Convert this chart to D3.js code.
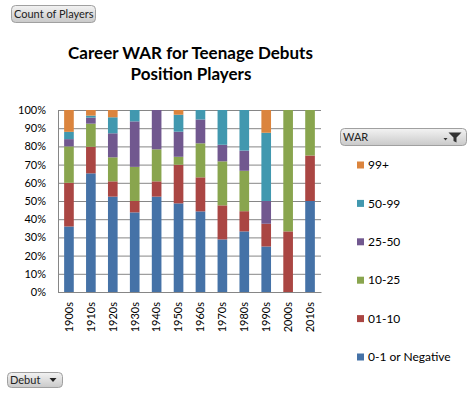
<!DOCTYPE html>
<html>
<head>
<meta charset="utf-8">
<script src="https://cdn.jsdelivr.net/npm/d3@7"></script>
<style>
  body { margin: 0; background: #fff; }
  svg { font-family: Lato, "Open Sans", sans-serif; }
</style>
</head>
<body>
<div id="chart"></div>
<script>
var decades = ["1900s","1910s","1920s","1930s","1940s","1950s","1960s","1970s","1980s","1990s","2000s","2010s"];
var warBands = ["0-1 or Negative","01-10","10-25","25-50","50-99","99+"];
var bandColors = ["#4572A7","#AA4643","#89A54E","#71588F","#4198AF","#DB843D"];

// share of players (%) in each WAR band, per decade
var negVals  = [36, 65.2, 52.4, 43.75, 52.4, 48.7, 44.3, 28.9, 33.3, 25, 0, 50];
var war1Vals = [24, 14.6, 8.4, 6.25, 8.4, 21.2, 18.7, 18.7, 11.1, 12.5, 33.3, 25];
var war10Vals = [20, 12.7, 13.2, 18.75, 17.6, 4.4, 18.7, 24.2, 22.2, 0, 66.7, 25];
var war25Vals = [4, 3.3, 13.2, 25, 21.6, 13.8, 13.1, 9.1, 11.1, 12.5, 0, 0];
var war50Vals = [4, 1.1, 8.8, 6.25, 0, 9.3, 5.2, 19.1, 22.3, 37.5, 0, 0];
var war99Vals = [12, 3.1, 4, 0, 0, 2.6, 0, 0, 0, 12.5, 0, 0];
var yTicks = [0,10,20,30,40,50,60,70,80,90,100];

var seriesVals = [negVals, war1Vals, war10Vals, war25Vals, war50Vals, war99Vals];
var rows = decades.map(function(d, i) {
  var r = {decade: d};
  warBands.forEach(function(b, j) { r[b] = seriesVals[j][i]; });
  return r;
});

var width = 474, height = 394;
var margin = {top: 110, left: 58, right: 153, bottom: 102};
var w = width - margin.left - margin.right,
    h = height - margin.top - margin.bottom;

var svg = d3.select("#chart").append("svg")
  .attr("width", width).attr("height", height);

var defs = svg.append("defs");
var grad = defs.append("linearGradient").attr("id", "btn").attr("x1", 0).attr("x2", 0).attr("y1", 0).attr("y2", 1);
grad.append("stop").attr("offset", "0%").attr("stop-color", "#f3f3f3");
grad.append("stop").attr("offset", "100%").attr("stop-color", "#c9c9c9");

var x = d3.scaleBand().domain(decades).range([0, w]).paddingInner(0.56).paddingOuter(0.28);
var y = d3.scaleLinear().domain([0, 100]).range([h, 0]);

var stack = d3.stack().keys(warBands);
var layers = stack(rows);

var g = svg.append("g").attr("transform", "translate(" + margin.left + "," + margin.top + ")");

// gridlines
g.append("g")
  .attr("class", "grid")
  .call(d3.axisLeft(y).tickValues(yTicks).tickSize(-w).tickFormat(""))
  .call(function(s) {
    s.select(".domain").remove();
    s.selectAll("line").attr("stroke", "#868686").attr("stroke-width", 1);
  });

// bars
g.selectAll(".layer")
  .data(layers)
  .enter().append("g")
  .attr("fill", function(d, i) { return bandColors[i]; })
  .selectAll("rect")
  .data(function(d) { return d; })
  .enter().append("rect")
  .attr("x", function(d) { return x(d.data.decade); })
  .attr("width", x.bandwidth())
  .attr("y", function(d) { return y(d[1]); })
  .attr("height", function(d) { return y(d[0]) - y(d[1]); });

// y axis
g.append("g")
  .call(d3.axisLeft(y).tickValues(yTicks).tickSize(0).tickPadding(12).tickFormat(function(d) { return d + "%"; }))
  .call(function(s) {
    s.select(".domain").attr("stroke", "#868686");
    s.selectAll("text").attr("font-size", 11).attr("fill", "#000")
      .style("font-family", "Lato, sans-serif");
  });

// x axis
g.append("g")
  .attr("transform", "translate(0," + h + ")")
  .call(d3.axisBottom(x).tickSize(0).tickPadding(0))
  .call(function(s) {
    s.select(".domain").attr("stroke", "#868686");
    s.selectAll("text")
      .attr("font-size", 11).attr("fill", "#000")
      .attr("transform", "rotate(-90)")
      .attr("text-anchor", "end")
      .attr("dy", "0.35em")
      .attr("x", -10).attr("y", 0)
      .style("font-family", "Lato, sans-serif");
  });

// title
svg.append("text").attr("x", 190.5).attr("y", 59).attr("text-anchor", "middle")
  .attr("font-size", 17).attr("font-weight", "bold").text("Career WAR for Teenage Debuts");
svg.append("text").attr("x", 191).attr("y", 80).attr("text-anchor", "middle")
  .attr("font-size", 17).attr("font-weight", "bold").text("Position Players");

// field buttons
function button(x0, y0, bw, bh, label) {
  var b = svg.append("g").attr("transform", "translate(" + x0 + "," + y0 + ")");
  b.append("rect").attr("width", bw).attr("height", bh).attr("rx", 4)
    .attr("fill", "url(#btn)").attr("stroke", "#a0a0a0");
  b.append("text").attr("x", 2.5).attr("y", bh / 2).attr("dy", "0.35em")
    .attr("font-size", 11).attr("fill", "#222").text(label);
  return b;
}
button(11.5, 5.5, 84, 17, "Count of Players");
var deb = button(7.5, 372.5, 55, 15, "Debut");
deb.append("path").attr("d", "M42,5.5 l7,0 l-3.5,4z").attr("fill", "#222");
var warBtn = button(340.5, 128.5, 126, 17, "WAR");
warBtn.append("path").attr("d", "M108,4 l13,0 l-5,5 l0,5 l-3,-1.5 l0,-3.5z").attr("fill", "#333");
warBtn.append("path").attr("d", "M103,9.5 l4,0 l-2,2.5z").attr("fill", "#333");

// legend
var legend = svg.append("g").attr("transform", "translate(357,0)");
var legendY = d3.scalePoint().domain(warBands.slice().reverse()).range([165, 357]);
var items = legend.selectAll("g").data(warBands).enter().append("g")
  .attr("transform", function(d) { return "translate(0," + legendY(d) + ")"; });
items.append("rect").attr("x", 0).attr("y", -3.5).attr("width", 7).attr("height", 7)
  .attr("fill", function(d, i) { return bandColors[i]; });
items.append("text").attr("x", 11).attr("dy", "0.35em").attr("font-size", 12).text(function(d) { return d; });
</script>
</body>
</html>
